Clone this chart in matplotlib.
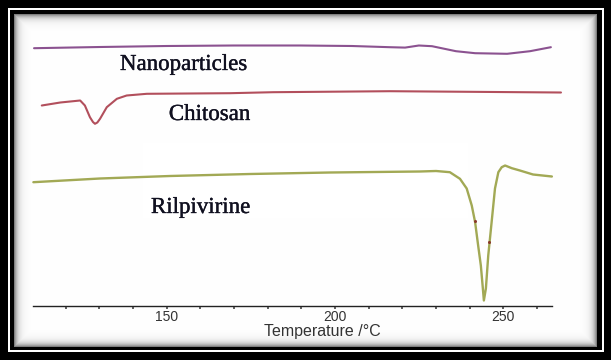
import numpy as np
import matplotlib
matplotlib.use("Agg")
import matplotlib.pyplot as plt
import matplotlib.patheffects as pe

# ---- data (temperature in °C, signal in arbitrary units) ----
nano_T = [110.6, 130.2, 150.0, 170.0, 189.6, 205.0, 216.3, 220.8, 224.9, 228.8,
          235.9, 241.6, 251.1, 257.9, 264.1]
nano_y = [257.3, 258.5, 259.5, 260, 260, 259.5, 258.3, 257.9, 260, 259.3,
          254.3, 252.3, 251.7, 254.3, 258.3]

chit_T = [112.9, 118.4, 124.3, 125.7, 127.2, 128.1, 128.7, 129.4, 130.2, 132.2,
          135.2, 138.1, 144.1, 168.8, 181.6, 216.3, 267.1]
chit_y = [200, 203, 205, 200, 188.3, 183.5, 181.7, 183, 186.7, 198.3,
          206.7, 210, 211.7, 212.3, 213.3, 214.3, 213]

rilp_T = [110.4, 130.2, 151.0, 174.8, 198.5, 225.2, 230.0, 234.1, 237.1, 239.1, 240.6,
          241.6, 242.5, 243.3, 243.9, 244.2, 244.8, 245.5, 246.5, 247.5, 248.5,
          249.5, 250.5, 252.5, 254.9, 258.8, 264.4]
rilp_y = [123.3, 127, 129.5, 131.5, 133, 134, 134.5, 133.3, 126.7, 117, 100,
          83.3, 60, 40, 17, 5, 17, 50, 83.3, 117, 133.3,
          138.3, 140, 137.3, 135, 131, 129]

mark_T = [241.6, 245.8]
mark_y = [85, 64]

labels = ["Nanoparticles", "Chitosan", "Rilpivirine"]
label_pos_T = [155.0, 162.7, 160.0]
label_pos_y = [241, 191, 98]

major_ticks = [150, 200, 250]
minor_ticks = list(range(120, 270, 10))
xlabel = "Temperature /°C"

# ---- figure ----
W, H = 611, 360
fig = plt.figure(figsize=(W / 100, H / 100), dpi=100)

# background frame (black border, white rule, inner shadow)
bg = fig.add_axes([0, 0, 1, 1])
yy, xx = np.mgrid[0:H, 0:W]
img = np.zeros((H, W))
ring = ((xx >= 8) & (xx <= 603) & (yy >= 8) & (yy <= 351)) & ~((xx >= 10) & (xx <= 601) & (yy >= 10) & (yy <= 349))
img[ring] = 1.0
inner = (xx >= 14) & (xx <= 596) & (yy >= 14) & (yy <= 346)
d = np.minimum.reduce([xx - 14, 596 - xx, yy - 14, 346 - yy]).astype(float)
shade = 1 - 0.5 * np.exp(-d / 3.5)
img[inner] = shade[inner]
bg.imshow(np.dstack([img] * 3), aspect="auto", interpolation="bilinear")
bg.axis("off")

# plot axes
px_per_deg = 3.367
x150 = 166.7
x0, x1 = 20, 570
ax = fig.add_axes([x0 / W, (H - 305.5) / H, (x1 - x0) / W, 285.5 / H])
ax.patch.set_alpha(0)
ax.set_xlim(150 + (x0 - x150) / px_per_deg, 150 + (x1 - x150) / px_per_deg)
ax.set_ylim(0, 285.5)

ax.plot(nano_T, nano_y, color="#8b5290", lw=1.5, solid_capstyle="round", solid_joinstyle="round")
ax.plot(chit_T, chit_y, color="#b24f5c", lw=1.5, solid_capstyle="round", solid_joinstyle="round")
ax.plot(rilp_T, rilp_y, color="#a2a955", lw=1.7, solid_capstyle="round", solid_joinstyle="round")
ax.plot(mark_T, mark_y, ls="none", marker="o", ms=2.2, color="#8a3a2a", mew=0)

for t, x, y in zip(labels, label_pos_T, label_pos_y):
    ax.text(x, y, t, ha="center", va="center", fontsize=16.5,
            family="Liberation Serif", color="#101020",
            path_effects=[pe.withStroke(linewidth=0.25, foreground="#101020")])

for s in ["left", "right", "top"]:
    ax.spines[s].set_visible(False)
ax.spines["bottom"].set_bounds(110.3, 264.4)
ax.spines["bottom"].set_color("#222222")
ax.spines["bottom"].set_linewidth(1.0)
ax.set_yticks([])
ax.set_xticks(major_ticks)
ax.set_xticks(minor_ticks, minor=True)
ax.tick_params(axis="x", which="both", direction="out", length=2.5, width=1.2,
               color="#444444", labelsize=10, labelcolor="#333333", pad=1.0)
for lab in ax.get_xticklabels():
    lab.set_family("Liberation Sans")
ax.set_xlabel(xlabel, fontsize=11.5, family="Liberation Sans", color="#333333", labelpad=-2)
ax.xaxis.set_label_coords((322 - x0) / (x1 - x0), -0.066)

fig.savefig("out.png", dpi=100)
